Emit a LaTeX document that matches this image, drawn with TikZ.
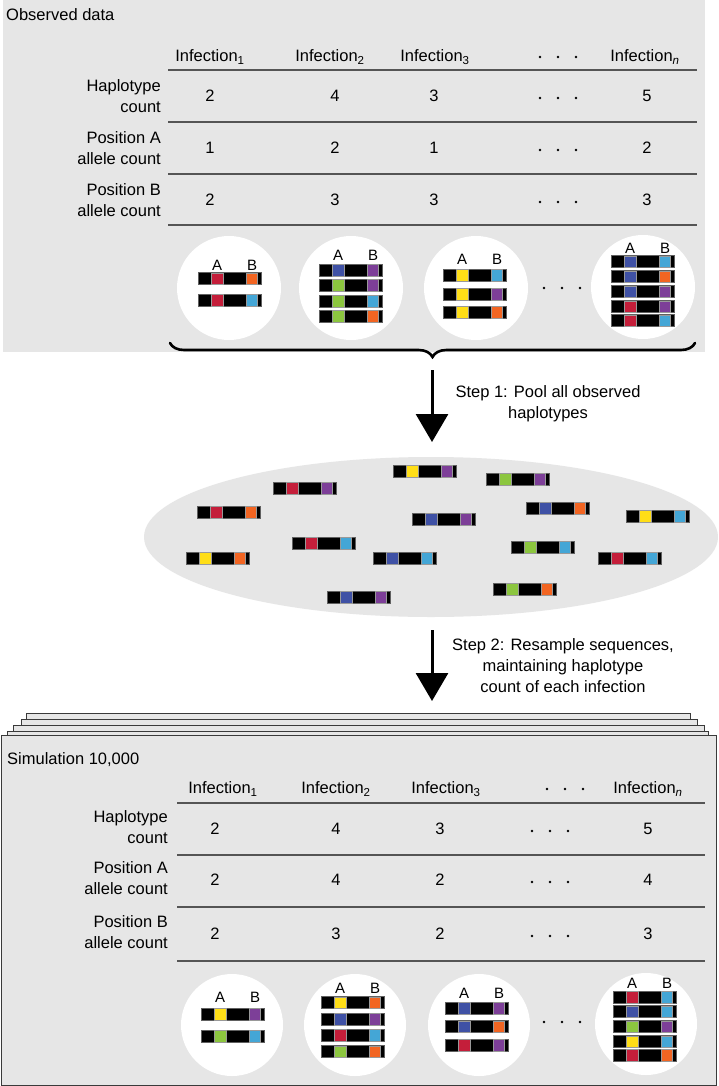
\documentclass[tikz,border=0pt]{standalone}
\usepackage{fontspec}
\setmainfont{Liberation Sans}
\usetikzlibrary{arrows.meta,decorations.pathreplacing,shapes.geometric}
\definecolor{bg}{HTML}{E6E6E6}
\definecolor{hred}{HTML}{C41E3A}
\definecolor{horange}{HTML}{F26522}
\definecolor{hcyan}{HTML}{44A6D6}
\definecolor{hpurple}{HTML}{7D3F98}
\definecolor{hblue}{HTML}{3F51A5}
\definecolor{hgreen}{HTML}{8CC63F}
\definecolor{hyellow}{HTML}{FFDE17}
\definecolor{frameclr}{HTML}{3A3A3A}
\definecolor{ruleclr}{HTML}{555555}
\newcommand{\hapbar}[4]{%
  \filldraw[fill=black,draw=gray!75!black,line width=0.6pt] (#1,{#2-6.2}) rectangle ({#1+63},{#2+6.2});
  \filldraw[fill=#3,draw=black!40,line width=0.3pt] ({#1+13},{#2-5.7}) rectangle ({#1+25},{#2+5.7});
  \filldraw[fill=#4,draw=black!40,line width=0.3pt] ({#1+48},{#2-5.7}) rectangle ({#1+59},{#2+5.7});
}
\newcommand{\ablabel}[3]{%
  \node[ab] (#1A) at ({#2+19},#3) {A};
  \node[ab] (#1B) at ({#2+54},#3) {B};
}
\newcommand{\tdots}[2]{%
  \fill[black] ({#1-18},#2) circle[radius=1.3];
  \fill[black] (#1,#2) circle[radius=1.3];
  \fill[black] ({#1+18},#2) circle[radius=1.3];
}
\tikzset{
  txt/.style={font=\fontsize{16.5}{21}\selectfont, inner sep=0pt},
  lbl/.style={txt, align=right, anchor=east},
  ab/.style={font=\fontsize{15}{15}\selectfont, inner sep=0pt},
  rulel/.style={draw=ruleclr, line width=1.2pt},
  blob/.style={fill=white, draw=none},
  page/.style={fill=bg, draw=frameclr, line width=0.9pt},
  bigarrow/.style={line width=3pt, -{Triangle[width=32pt,length=28pt]}},
}
\begin{document}
\begin{tikzpicture}[x=1pt,y=-1pt]
\useasboundingbox (0,0) rectangle (718,1086);
\fill[white] (0,0) rectangle (718,1086);

% ---------- Observed data panel ----------
\fill[bg] (3,0) rectangle (705,352);
\node[txt,anchor=west] (obs) at (6,15) {Observed data};

\node[txt] (oi1) at (210,57) {Infection\textsubscript{1}};
\node[txt] (oi2) at (330,57) {Infection\textsubscript{2}};
\node[txt] (oi3) at (435,57) {Infection\textsubscript{3}};
\node[txt] (oin) at (645,57) {Infection\textsubscript{\textit{n}}};
\tdots{558}{57}
\draw[rulel] (168,70) -- (697,70);

\node[lbl] (ohc) at (161,96) {Haplotype\\count};
\node[txt] (o11) at (210,96) {2};
\node[txt] (o12) at (335,96) {4};
\node[txt] (o13) at (434,96) {3};
\tdots{558}{98}
\node[txt] (o1n) at (647,96) {5};
\draw[rulel] (168,122) -- (697,122);

\node[lbl] (opa) at (161,148) {Position A\\allele count};
\node[txt] (o21) at (210,148) {1};
\node[txt] (o22) at (335,148) {2};
\node[txt] (o23) at (434,148) {1};
\tdots{558}{150}
\node[txt] (o2n) at (647,148) {2};
\draw[rulel] (168,174) -- (697,174);

\node[lbl] (opb) at (161,200) {Position B\\allele count};
\node[txt] (o31) at (210,200) {2};
\node[txt] (o32) at (335,200) {3};
\node[txt] (o33) at (434,200) {3};
\tdots{558}{202}
\node[txt] (o3n) at (647,200) {3};
\draw[rulel] (168,225) -- (697,225);

% circles (observed)
\fill[blob] (229,288) circle[radius=52];
\fill[blob] (351,288) circle[radius=52];
\fill[blob] (476,288) circle[radius=52];
\fill[blob] (643,287) circle[radius=52];
\ablabel{oc1}{198}{265}
\hapbar{198}{278.5}{hred}{horange}
\hapbar{198}{300}{hred}{hcyan}
\ablabel{oc2}{319}{255}
\hapbar{319}{270}{hblue}{hpurple}
\hapbar{319}{285}{hgreen}{hpurple}
\hapbar{319}{301}{hgreen}{hcyan}
\hapbar{319}{316}{hgreen}{horange}
\ablabel{oc3}{443}{259}
\hapbar{443}{275}{hyellow}{hcyan}
\hapbar{443}{294}{hyellow}{hpurple}
\hapbar{443}{312}{hyellow}{horange}
\tdots{562}{288}
\ablabel{oc4}{611}{248}
\hapbar{611}{261.5}{hblue}{hcyan}
\hapbar{611}{276.5}{hblue}{horange}
\hapbar{611}{291.5}{hblue}{hpurple}
\hapbar{611}{306.5}{hred}{hpurple}
\hapbar{611}{320.5}{hred}{hcyan}

% brace
\coordinate (brl) at (170,343);
\coordinate (brr) at (695,343);
\draw[line width=2.6pt, line cap=round, decorate, decoration={brace, mirror, amplitude=14pt}] (brl) -- (brr);

% ---------- Step 1 ----------
\coordinate (a1s) at (432,370);
\coordinate (a1e) at (432,442);
\draw[bigarrow] (a1s) -- (a1e);
\node[txt, align=center] (step1) at (548,404) {Step 1: Pool all observed\\haplotypes};

% ---------- pool ----------
\fill[bg] (431,537) ellipse[x radius=287, y radius=80];
\hapbar{273}{488}{hred}{hpurple}
\hapbar{197}{512}{hred}{horange}
\hapbar{393}{471}{hyellow}{hpurple}
\hapbar{412}{519}{hblue}{hpurple}
\hapbar{292}{543}{hred}{hcyan}
\hapbar{186}{558}{hyellow}{horange}
\hapbar{373}{558}{hblue}{hcyan}
\hapbar{327}{597}{hblue}{hpurple}
\hapbar{486}{479}{hgreen}{hpurple}
\hapbar{526}{508}{hblue}{horange}
\hapbar{626}{516}{hyellow}{hcyan}
\hapbar{511}{547}{hgreen}{hcyan}
\hapbar{598}{558}{hred}{hcyan}
\hapbar{493}{589}{hgreen}{horange}

% ---------- Step 2 ----------
\coordinate (a2s) at (432,630);
\coordinate (a2e) at (432,701);
\draw[bigarrow] (a2s) -- (a2e);
\node[txt, align=center] (step2) at (563,666) {Step 2: Resample sequences,\\maintaining haplotype\\count of each infection};

% ---------- Simulation pages ----------
\draw[page] (26,713) rectangle (690,760);
\draw[page] (21,719) rectangle (697,760);
\draw[page] (13,725) rectangle (704,760);
\draw[page] (7,731) rectangle (708,760);
\draw[page] (1,735) rectangle (716,1085);

\node[txt,anchor=west] (sim) at (7,760) {Simulation 10,000};

\node[txt] (si1) at (223,789) {Infection\textsubscript{1}};
\node[txt] (si2) at (336,789) {Infection\textsubscript{2}};
\node[txt] (si3) at (446,789) {Infection\textsubscript{3}};
\node[txt] (sin) at (648,789) {Infection\textsubscript{\textit{n}}};
\tdots{565}{789}
\draw[rulel] (177,803) -- (705,803);

\node[lbl] (shc) at (168,827) {Haplotype\\count};
\node[txt] (s11) at (215,829) {2};
\node[txt] (s12) at (336,829) {4};
\node[txt] (s13) at (440,829) {3};
\tdots{550}{831}
\node[txt] (s1n) at (648,829) {5};
\draw[rulel] (177,855) -- (705,855);

\node[lbl] (spa) at (168,878) {Position A\\allele count};
\node[txt] (s21) at (215,880) {2};
\node[txt] (s22) at (336,880) {4};
\node[txt] (s23) at (440,880) {2};
\tdots{550}{882}
\node[txt] (s2n) at (648,880) {4};
\draw[rulel] (177,907) -- (705,907);

\node[lbl] (spb) at (168,932) {Position B\\allele count};
\node[txt] (s31) at (215,934) {2};
\node[txt] (s32) at (336,934) {3};
\node[txt] (s33) at (440,934) {2};
\tdots{550}{936}
\node[txt] (s3n) at (648,934) {3};
\draw[rulel] (177,961) -- (705,961);

% circles (simulation)
\fill[blob] (232,1025) circle[radius=51];
\fill[blob] (355,1025) circle[radius=51];
\fill[blob] (479,1025) circle[radius=51];
\fill[blob] (646,1024) circle[radius=51];
\ablabel{sc1}{201}{997}
\hapbar{201}{1014}{hyellow}{hpurple}
\hapbar{201}{1036}{hgreen}{hcyan}
\ablabel{sc2}{321}{988}
\hapbar{321}{1002.5}{hyellow}{horange}
\hapbar{321}{1019}{hblue}{hpurple}
\hapbar{321}{1035}{hred}{hcyan}
\hapbar{321}{1051.5}{hgreen}{horange}
\ablabel{sc3}{445}{993}
\hapbar{445}{1008}{hblue}{hpurple}
\hapbar{445}{1026.5}{hblue}{horange}
\hapbar{445}{1045}{hred}{hpurple}
\tdots{562}{1022}
\ablabel{sc4}{613}{983}
\hapbar{613}{997}{hred}{hcyan}
\hapbar{613}{1011.5}{hblue}{hcyan}
\hapbar{613}{1026.5}{hgreen}{hpurple}
\hapbar{613}{1041.5}{hyellow}{hcyan}
\hapbar{613}{1055}{hred}{horange}
\end{tikzpicture}
\end{document}
